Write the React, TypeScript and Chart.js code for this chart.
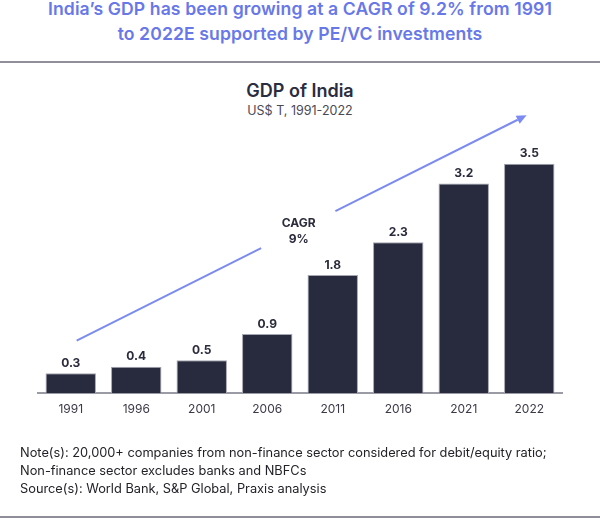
import React, { useEffect, useRef } from "react";
import { Chart, registerables } from "chart.js";

Chart.register(...registerables);

const headingLines = [
  "India\u2019s GDP has been growing at a CAGR of 9.2% from 1991",
  "to 2022E supported by PE/VC investments",
];
const chartTitle = "GDP of India";
const chartSubtitle = "US$ T, 1991-2022";
const years = ["1991", "1996", "2001", "2006", "2011", "2016", "2021", "2022"];
const gdp = [0.3, 0.4, 0.5, 0.9, 1.8, 2.3, 3.2, 3.5];
const yMax = 4;
const cagrLabel = ["CAGR", "9%"];
// arrow annotation in data units: [category index, value]
const arrowStart = [0.09, 0.8];
const arrowEnd = [6.96, 4.24];
const arrowGap = [0.41, 0.575];
const cagrPos = [3.48, 2.47];
const noteLines = [
  "Note(s): 20,000+ companies from non-finance sector considered for debit/equity ratio;",
  "Non-finance sector excludes banks and NBFCs",
  "Source(s): World Bank, S&P Global, Praxis analysis",
];

const FONT = "Inter, 'Open Sans', sans-serif";
const BAR = "#282a3e";
const ARROW = "#7b8bf2";

const overlay = {
  id: "overlay",
  afterDatasetsDraw(chart: any) {
    const { ctx, scales } = chart;
    const x = scales.x;
    const y = scales.y;
    const meta = chart.getDatasetMeta(0);
    ctx.save();
    // value labels
    ctx.font = `bold 12px ${FONT}`;
    ctx.fillStyle = "#2a2b3c";
    ctx.textAlign = "center";
    ctx.textBaseline = "middle";
    meta.data.forEach((bar: any, i: number) => {
      ctx.fillText(gdp[i].toFixed(1), bar.x, bar.y - 10);
    });
    // arrow
    const x0 = x.getPixelForValue(arrowStart[0]);
    const y0 = y.getPixelForValue(arrowStart[1]);
    const x1 = x.getPixelForValue(arrowEnd[0]);
    const y1 = y.getPixelForValue(arrowEnd[1]);
    const lerp = (t: number) => [x0 + (x1 - x0) * t, y0 + (y1 - y0) * t];
    const g0 = lerp(arrowGap[0]);
    const g1 = lerp(arrowGap[1]);
    const ang = Math.atan2(y1 - y0, x1 - x0);
    const headLen = 10;
    const hx = x1 - Math.cos(ang) * headLen;
    const hy = y1 - Math.sin(ang) * headLen;
    ctx.strokeStyle = ARROW;
    ctx.lineWidth = 2;
    ctx.beginPath();
    ctx.moveTo(x0, y0);
    ctx.lineTo(g0[0], g0[1]);
    ctx.moveTo(g1[0], g1[1]);
    ctx.lineTo(hx, hy);
    ctx.stroke();
    ctx.fillStyle = ARROW;
    ctx.beginPath();
    ctx.moveTo(x1, y1);
    ctx.lineTo(hx + Math.sin(ang) * 4.5, hy - Math.cos(ang) * 4.5);
    ctx.lineTo(hx - Math.sin(ang) * 4.5, hy + Math.cos(ang) * 4.5);
    ctx.closePath();
    ctx.fill();
    // CAGR text
    const cx = x.getPixelForValue(cagrPos[0]);
    const cy = y.getPixelForValue(cagrPos[1]);
    ctx.font = `bold 12px ${FONT}`;
    ctx.fillStyle = "#2a2b3c";
    ctx.fillText(cagrLabel[0], cx, cy - 8);
    ctx.fillText(cagrLabel[1], cx, cy + 8);
    ctx.restore();
  },
};

function GdpChart() {
  const ref = useRef<HTMLCanvasElement | null>(null);
  useEffect(() => {
    if (!ref.current) return;
    const chart = new Chart(ref.current, {
      type: "bar",
      data: {
        labels: years,
        datasets: [
          {
            data: gdp,
            backgroundColor: BAR,
            borderColor: "#a5a6b2",
            borderWidth: 1,
            barPercentage: 0.77,
            categoryPercentage: 1,
          },
        ],
      },
      options: {
        responsive: false,
        animation: false,
        layout: { padding: { top: 131, left: 38, right: 38, bottom: 0 } },
        plugins: {
          legend: { display: false },
          tooltip: { enabled: false },
          title: { display: false },
        },
        scales: {
          y: { display: false, min: 0, max: yMax },
          x: {
            grid: { display: false, drawTicks: false },
            border: { display: true, color: "#9b9ba6", width: 2 },
            ticks: {
              padding: 9,
              color: "#3a3a48",
              font: { family: FONT, size: 12 },
            },
            afterFit: (s: any) => {
              s.height = 127;
            },
          },
        },
      },
      plugins: [overlay],
    });
    return () => chart.destroy();
  }, []);
  return (
    <canvas
      ref={ref}
      width={600}
      height={520}
      style={{ position: "absolute", left: 0, top: 0, width: 600, height: 520 }}
    />
  );
}

export default function App() {
  return (
    <div
      style={{
        position: "absolute",
        left: 0,
        top: 0,
        width: 600,
        height: 520,
        background: "#ffffff",
        overflow: "hidden",
        fontFamily: FONT,
      }}
    >
      <div
        style={{
          position: "absolute",
          top: -4,
          left: 0,
          width: 600,
          textAlign: "center",
          color: "#6878e8",
          fontWeight: 600,
          fontSize: 17.6,
          lineHeight: "25px",
          letterSpacing: "0.1px",
        }}
      >
        {headingLines.map((l) => (
          <div key={l}>{l}</div>
        ))}
      </div>
      <div style={{ position: "absolute", top: 61, left: 0, width: 600, height: 2, background: "#8f8e99" }} />
      <div
        style={{
          position: "absolute",
          top: 80,
          left: 0,
          width: 600,
          textAlign: "center",
          color: "#2a2c40",
          fontWeight: 600,
          fontSize: 18,
          lineHeight: "22px",
        }}
      >
        {chartTitle}
      </div>
      <div
        style={{
          position: "absolute",
          top: 103,
          left: 0,
          width: 600,
          textAlign: "center",
          color: "#4a4a55",
          fontSize: 12.5,
          lineHeight: "16px",
        }}
      >
        {chartSubtitle}
      </div>
      <GdpChart />
      <div
        style={{
          position: "absolute",
          top: 444,
          left: 20,
          color: "#222228",
          fontSize: 12.8,
          lineHeight: "18px",
          whiteSpace: "nowrap",
        }}
      >
        {noteLines.map((l) => (
          <div key={l}>{l}</div>
        ))}
      </div>
      <div style={{ position: "absolute", top: 516, left: 0, width: 600, height: 2, background: "#8f8e99" }} />
    </div>
  );
}
